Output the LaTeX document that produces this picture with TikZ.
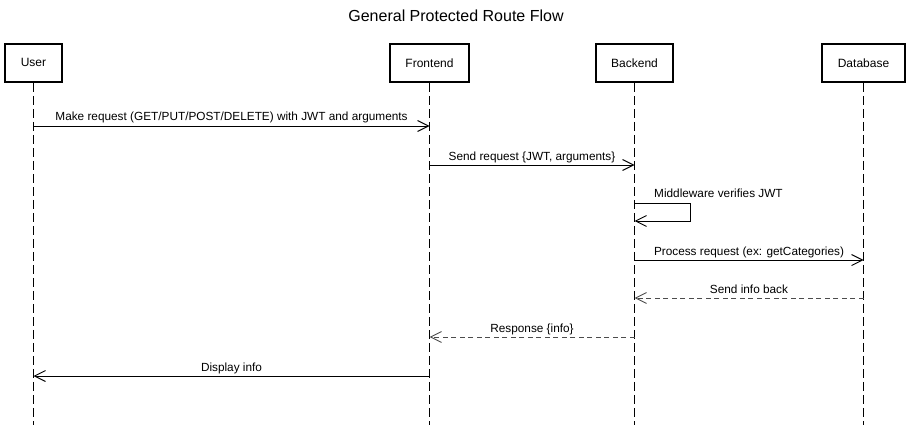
\documentclass[tikz,border=0pt]{standalone}
\usepackage{fontspec}
\setmainfont{Liberation Sans}
\usetikzlibrary{arrows.meta}

\begin{document}
\begin{tikzpicture}[x=1pt, y=-1pt,
    actor/.style={draw, line width=1.8pt, minimum height=38pt, inner sep=0pt, font=\fontsize{12}{14}\selectfont},
    life/.style={line width=0.9pt, dash pattern=on 9pt off 4pt},
    msg/.style={line width=0.9pt, -{Straight Barb[length=11pt, width=11pt, line width=0.9pt]}},
    reply/.style={msg, black!70, dash pattern=on 5pt off 3.5pt},
    lbl/.style={font=\fontsize{11.8}{14}\selectfont, anchor=base, inner sep=0pt}]
    \def\top{43}
    \def\bot{425}

    \useasboundingbox[fill=white] (0,0) rectangle (912,425);

    \node[font=\fontsize{16}{19}\selectfont] (title) at (456,16) {General Protected Route Flow};

    % actors and lifelines
    \foreach \name/\x/\w/\txt in {user/33.5/57/User, front/429.5/79/Frontend, back/634.5/77/Backend, db/863.5/83/Database} {
        \node[actor, minimum width=\w pt, anchor=north] (\name) at (\x,\top) {\txt};
        \coordinate (\name-end) at (\x,\bot);
        \draw[life] (\name.south) -- (\name-end);
    }

    % rows of the messages
    \foreach \r/\y in {1/126, 2/165, 3/203, 4/221, 5/260, 6/298, 7/337, 8/376} {
        \coordinate (r\r) at (0,\y);
    }
    \coordinate (loop) at (690,0);

    \draw[msg] (user |- r1) -- node[lbl, yshift=5pt] {Make request (GET/PUT/POST/DELETE) with JWT and arguments} (front |- r1);
    \draw[msg] (front |- r2) -- node[lbl, yshift=5pt] {Send request \{JWT, arguments\}} (back |- r2);
    \draw[msg] (back |- r3) -- (loop |- r3) -- (loop |- r4) -- (back |- r4);
    \node[lbl, anchor=base west] (verify) at (654,197) {Middleware verifies JWT};
    \draw[msg] (back |- r5) -- node[lbl, yshift=5pt] {Process request (ex: getCategories)} (db |- r5);
    \draw[reply] (db |- r6) -- node[lbl, black, yshift=5pt] {Send info back} (back |- r6);
    \draw[reply] (back |- r7) -- node[lbl, black, yshift=5pt] {Response \{info\}} (front |- r7);
    \draw[msg] (front |- r8) -- node[lbl, yshift=5pt] {Display info} (user |- r8);
\end{tikzpicture}
\end{document}
